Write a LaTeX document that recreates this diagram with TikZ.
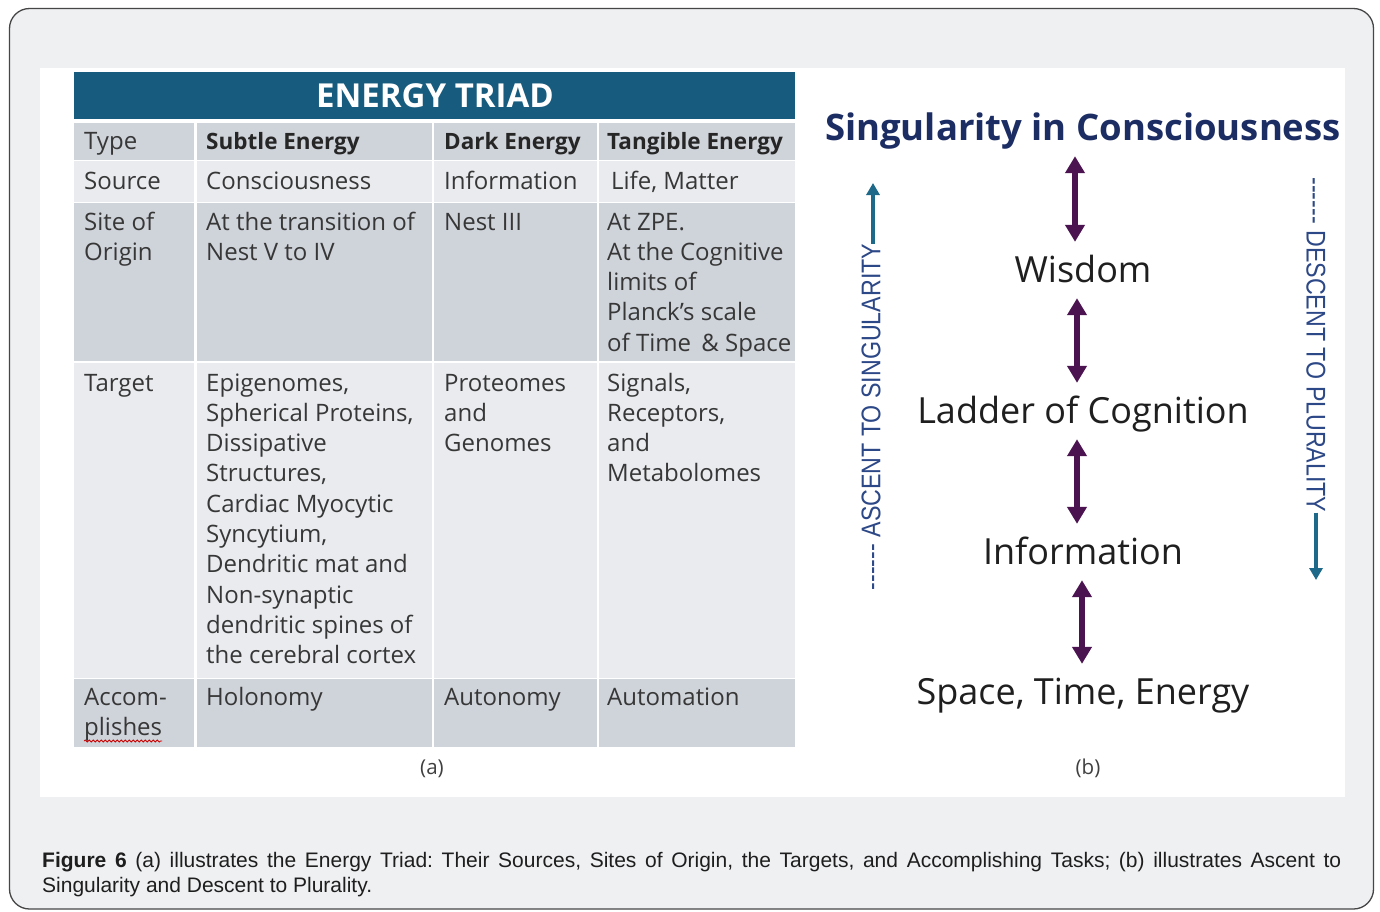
\documentclass[tikz,border=0pt]{standalone}
\usepackage{fontspec}
\setmainfont{Open Sans}
\newfontfamily\capfont{Liberation Sans}
\usetikzlibrary{arrows.meta,decorations.pathmorphing}
\definecolor{bgc}{RGB}{239,240,242}
\definecolor{framec}{RGB}{70,70,70}
\definecolor{barc}{RGB}{23,92,126}
\definecolor{darkcell}{RGB}{207,211,218}
\definecolor{lightcell}{RGB}{233,235,239}
\definecolor{cellt}{RGB}{55,55,55}
\definecolor{navy}{RGB}{28,45,100}
\definecolor{plum}{RGB}{75,20,80}
\definecolor{tealc}{RGB}{30,105,138}
\definecolor{sidec}{RGB}{45,72,135}
\definecolor{capc}{RGB}{30,30,30}
\frenchspacing
\begin{document}
\begin{tikzpicture}[x=1pt,y=-1pt,
  cell/.style={anchor=base west,inner sep=0pt,align=left,text=cellt,font=\fontsize{24}{30.3}\selectfont},
  hcell/.style={cell,text=black!85,font=\fontsize{22.5}{30.3}\selectfont\bfseries},
  lab/.style={inner sep=0pt,text height=25pt,text depth=7pt,font=\fontsize{36}{40}\selectfont,text=black!88},
  dbl/.style={{Triangle[width=19pt,length=17pt]}-{Triangle[width=19pt,length=17pt]},line width=5.5pt,plum,shorten <=9pt,shorten >=15pt},
  side/.style={inner sep=0pt,text=sidec,font=\capfont\fontsize{27}{27}\selectfont},
  uparrow/.style={-{Triangle[width=13pt,length=12pt]},line width=3.5pt,tealc},
  sublab/.style={inner sep=0pt,font=\fontsize{20.5}{20.5}\selectfont,text=black!75},
  captext/.style={anchor=base west,inner sep=0pt,text=capc,font=\capfont\fontsize{21}{25}\selectfont}]
\useasboundingbox (0,0) rectangle (1380,911);
\fill[white] (0,0) rectangle (1380,911);
\draw[framec,line width=1.3pt,fill=bgc,rounded corners=20pt] (9.5,8.5) rectangle (1373.5,909);
\fill[white] (40,68) rectangle (1345,797);
% table
\fill[barc] (74,72) rectangle (795,119);
\foreach \ya/\yb/\c in {122.5/160/darkcell,161/201.5/lightcell,203/360.5/darkcell,362.5/677.5/lightcell,679/747/darkcell}
  \foreach \xa/\xb in {74/193.5,196.5/432,434/596.5,598.5/795}
    \fill[\c] (\xa,\ya) rectangle (\xb,\yb);
\node[inner sep=0pt,text=white,font=\fontsize{33}{33}\selectfont\bfseries] (ttl) at (435,96) {ENERGY TRIAD};
% header row
\node[cell] (c11) at (84,149) {Type};
\node[hcell] (c12) at (206,149) {Subtle Energy};
\node[hcell] (c13) at (444,149) {Dark Energy};
\node[hcell] (c14) at (607,149) {Tangible Energy};
% source
\node[cell] (c21) at (84,189) {Source};
\node[cell] (c22) at (206,189) {Consciousness};
\node[cell] (c23) at (444,189) {Information};
\node[cell] (c24) at (611,189) {Life, Matter};
% site (base anchor = baseline of last line)
\node[cell] (c31) at (84,260.3) {Site of\\Origin};
\node[cell] (c32) at (206,260.3) {At the transition of\\Nest V to IV};
\node[cell] (c33) at (444,230) {Nest III};
\node[cell] (c34) at (607,351.2) {At ZPE.\\At the Cognitive\\limits of\\Planck's scale\\of Time \,\& Space};
% target
\node[cell] (c41) at (84,391) {Target};
\node[cell] (c42) at (206,663.7) {Epigenomes,\\Spherical Proteins,\\Dissipative\\Structures,\\Cardiac Myocytic\\Syncytium,\\Dendritic mat and\\Non-synaptic\\dendritic spines of\\the cerebral cortex};
\node[cell] (c43) at (444,451.6) {Proteomes\\and\\Genomes};
\node[cell] (c44) at (607,481.9) {Signals,\\Receptors,\\and\\Metabolomes};
% accomplishes
\node[cell] (c51) at (84,735.3) {Accom-\\plishes};
\node[cell] (c52) at (206,705) {Holonomy};
\node[cell] (c53) at (444,705) {Autonomy};
\node[cell] (c54) at (607,705) {Automation};
\draw[red!80!black,line width=0.8pt,decorate,decoration={snake,amplitude=1pt,segment length=4pt}] (84,741) -- (162,741);
\node[sublab] (suba) at (432,769) {(a)};
% right panel
\node[lab,text=navy,font=\fontsize{36.5}{40}\selectfont\bfseries] (sing) at (1083,131) {Singularity in Consciousness};
\node[lab] (wis) at (1083,273) {Wisdom};
\node[lab] (lad) at (1083,414) {Ladder of Cognition};
\node[lab] (inf) at (1083,555) {Information};
\node[lab] (ste) at (1083,695) {Space, Time, Energy};
\draw[dbl] ([xshift=-8pt]sing.south) -- ([xshift=-8pt]wis.north);
\draw[dbl] ([xshift=-6pt]wis.south) -- ([xshift=-6pt]lad.north);
\draw[dbl] ([xshift=-6pt]lad.south) -- ([xshift=-6pt]inf.north);
\draw[dbl] ([xshift=-1pt]inf.south) -- ([xshift=-1pt]ste.north);
\node[side,rotate=90] (asc) at (871,417) {\scalebox{0.86}[1]{------ ASCENT TO SINGULARITY}};
\coordinate (ascTop) at (873,183);
\draw[uparrow] (asc.east -| ascTop) -- (ascTop);
\node[side,rotate=-90] (desc) at (1316,345) {\scalebox{0.86}[1]{------ DESCENT TO PLURALITY}};
\coordinate (descEnd) at (1316,580);
\draw[uparrow] (desc.east) -- (descEnd);
\node[sublab] (subb) at (1088,768) {(b)};
% caption
\node[captext] (cap1) at (42,867) {\makebox[1299pt][s]{\textbf{Figure 6} (a) illustrates the Energy Triad: Their Sources, Sites of Origin, the Targets, and Accomplishing Tasks; (b) illustrates Ascent to}};
\node[captext] (cap2) at (42,892) {Singularity and Descent to Plurality.};
\end{tikzpicture}
\end{document}
